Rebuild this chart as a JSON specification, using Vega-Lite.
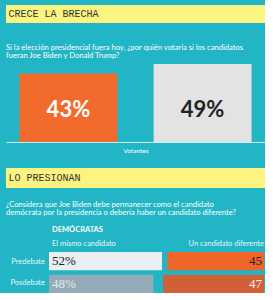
{
  "$schema": "https://vega.github.io/schema/vega-lite/v6.json",
  "background": "#22b5c5",
  "padding": {"left": 6, "top": 5, "right": 0, "bottom": 0},
  "config": {"view": {"stroke": null}},
  "datasets": {
    "encabezados": [{"seccion": 1, "texto": "CRECE LA BRECHA"}, {"seccion": 2, "texto": "LO PRESIONAN"}],
    "votantes": [{"candidato": "Joe Biden", "pct": 43, "etiqueta": "43%"}, {"candidato": "Donald Trump", "pct": 49, "etiqueta": "49%"}],
    "democratas": [
      {"momento": "Predebate", "respuesta": "El mismo candidato", "pct": 52, "etiqueta": "52%"},
      {"momento": "Posdebate", "respuesta": "El mismo candidato", "pct": 48, "etiqueta": "48%"},
      {"momento": "Predebate", "respuesta": "Un candidato diferente", "pct": 45, "etiqueta": "45"},
      {"momento": "Posdebate", "respuesta": "Un candidato diferente", "pct": 47, "etiqueta": "47"}
    ]
  },
  "spacing": 14,
  "vconcat": [
    {
      "spacing": 20,
      "vconcat": [
        {
          "width": 259, "height": 18,
          "view": {"fill": "#fdf380", "stroke": null},
          "data": {"name": "encabezados"},
          "transform": [{"filter": "datum.seccion === 1"}],
          "mark": {"type": "text", "align": "left", "baseline": "middle", "font": "Liberation Mono", "fontSize": 10, "color": "#333333"},
          "encoding": {
            "text": {"field": "texto"},
            "x": {"datum": 0.01, "type": "quantitative", "scale": {"domain": [0, 1]}, "axis": null}
          }
        },
        {
          "width": 259, "height": 78,
          "title": {
            "text": ["Si la elección presidencial fuera hoy, ¿por quién votaría si los candidatos", "fueran Joe Biden y Donald Trump?"],
            "anchor": "start", "color": "white", "font": "Lato", "fontSize": 7.6, "fontWeight": "normal", "lineHeight": 8.5, "offset": 4
          },
          "data": {"name": "votantes"},
          "encoding": {
            "x": {
              "field": "candidato", "type": "nominal", "sort": null,
              "scale": {"paddingInner": 0.27, "paddingOuter": 0.1},
              "axis": {"title": "Votantes", "labels": false, "ticks": false, "domainColor": "#c8eef2", "domainWidth": 1, "titleColor": "white", "titleFont": "Lato", "titleFontSize": 6.5, "titleFontWeight": "normal", "titlePadding": 5}
            },
            "y": {"field": "pct", "type": "quantitative", "scale": {"domain": [0, 49]}, "axis": null}
          },
          "layer": [
            {
              "mark": {"type": "bar"},
              "encoding": {
                "color": {"field": "candidato", "type": "nominal", "scale": {"domain": ["Joe Biden", "Donald Trump"], "range": ["#f26a2c", "#e3e3e3"]}, "legend": null}
              }
            },
            {
              "mark": {"type": "text", "baseline": "middle", "font": "Lato", "fontWeight": "bold", "fontSize": 22},
              "encoding": {
                "y": {"datum": 20},
                "text": {"field": "etiqueta"},
                "color": {"field": "candidato", "type": "nominal", "scale": {"domain": ["Joe Biden", "Donald Trump"], "range": ["#ffffff", "#222222"]}, "legend": null}
              }
            }
          ],
          "resolve": {"scale": {"color": "independent"}}
        }
      ]
    },
    {
      "spacing": 13,
      "vconcat": [
        {
          "width": 259, "height": 20,
          "view": {"fill": "#fdf380", "stroke": null},
          "data": {"name": "encabezados"},
          "transform": [{"filter": "datum.seccion === 2"}],
          "mark": {"type": "text", "align": "left", "baseline": "middle", "font": "Liberation Mono", "fontSize": 10, "color": "#333333"},
          "encoding": {
            "text": {"field": "texto"},
            "x": {"datum": 0.01, "type": "quantitative", "scale": {"domain": [0, 1]}, "axis": null}
          }
        },
        {
          "title": {
            "text": ["¿Considera que Joe Biden debe permanecer como el candidato", "demócrata por la presidencia o debería haber un candidato diferente?"],
            "anchor": "start", "color": "white", "font": "Lato", "fontSize": 7.6, "fontWeight": "normal", "lineHeight": 8.2, "offset": 9
          },
          "data": {"name": "democratas"},
          "spacing": 1,
          "hconcat": [
            {
              "width": 42, "height": 41,
              "transform": [{"filter": "datum.respuesta === 'El mismo candidato'"}],
              "mark": {"type": "text", "align": "right", "baseline": "middle", "dx": -3, "font": "Lato", "fontSize": 7.5, "color": "#e6f7f9"},
              "encoding": {
                "y": {
                  "field": "momento", "type": "nominal", "sort": ["Predebate", "Posdebate"],
                  "scale": {"paddingInner": 0.2, "paddingOuter": 0}, "axis": null
                },
                "x": {"datum": 1, "type": "quantitative", "scale": {"domain": [0, 1]}, "axis": null},
                "text": {"field": "momento"}
              }
            },
            {
              "width": 113, "height": 41,
              "title": {
                "text": "DEMÓCRATAS", "subtitle": "El mismo candidato", "anchor": "start", "dx": 3,
                "color": "white", "font": "Lato", "fontSize": 7.5, "fontWeight": "bold",
                "subtitleColor": "#e6f7f9", "subtitleFont": "Lato", "subtitleFontSize": 7.5, "subtitlePadding": 6.5, "offset": 4.5
              },
              "transform": [{"filter": "datum.respuesta === 'El mismo candidato'"}],
              "encoding": {
                "y": {
                  "field": "momento", "type": "nominal", "sort": ["Predebate", "Posdebate"],
                  "scale": {"paddingInner": 0.2, "paddingOuter": 0}, "axis": null
                },
                "x": {"field": "pct", "type": "quantitative", "scale": {"domain": [0, 52]}, "axis": null}
              },
              "layer": [
                {
                  "mark": {"type": "bar"},
                  "encoding": {
                    "color": {"field": "momento", "type": "nominal", "scale": {"domain": ["Predebate", "Posdebate"], "range": ["#e8eef2", "#94acb8"]}, "legend": null}
                  }
                },
                {
                  "mark": {"type": "text", "align": "left", "baseline": "middle", "dx": 3, "font": "Liberation Sans Narrow", "fontSize": 13},
                  "encoding": {
                    "x": {"datum": 0},
                    "text": {"field": "etiqueta"},
                    "color": {"field": "momento", "type": "nominal", "scale": {"domain": ["Predebate", "Posdebate"], "range": ["#222222", "#e3e9ec"]}, "legend": null}
                  }
                }
              ],
              "resolve": {"scale": {"color": "independent"}}
            },
            {
              "width": 101, "height": 41,
              "title": {
                "text": "Un candidato diferente", "anchor": "end", "color": "#e6f7f9", "font": "Lato", "fontSize": 7.5, "fontWeight": "normal", "offset": 4.5
              },
              "transform": [{"filter": "datum.respuesta === 'Un candidato diferente'"}],
              "encoding": {
                "y": {
                  "field": "momento", "type": "nominal", "sort": ["Predebate", "Posdebate"],
                  "scale": {"paddingInner": 0.2, "paddingOuter": 0}, "axis": null
                },
                "x": {"field": "pct", "type": "quantitative", "scale": {"domain": [0, 47], "reverse": true}, "axis": null}
              },
              "layer": [
                {
                  "mark": {"type": "bar"},
                  "encoding": {
                    "color": {"field": "momento", "type": "nominal", "scale": {"domain": ["Predebate", "Posdebate"], "range": ["#f0652a", "#cf6139"]}, "legend": null}
                  }
                },
                {
                  "mark": {"type": "text", "align": "right", "baseline": "middle", "dx": -2, "font": "Liberation Sans Narrow", "fontSize": 13},
                  "encoding": {
                    "x": {"datum": 0},
                    "text": {"field": "etiqueta"},
                    "color": {"field": "momento", "type": "nominal", "scale": {"domain": ["Predebate", "Posdebate"], "range": ["#222222", "#f5f5f5"]}, "legend": null}
                  }
                }
              ],
              "resolve": {"scale": {"color": "independent"}}
            }
          ]
        }
      ]
    }
  ]
}
